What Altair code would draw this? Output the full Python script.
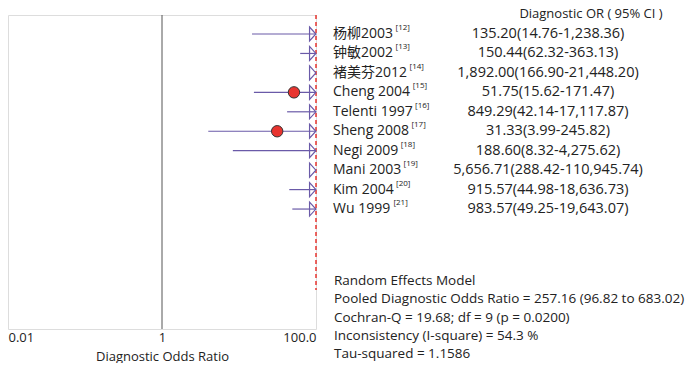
import altair as alt
import pandas as pd

studies = ["杨柳2003", "钟敏2002", "褚美芬2012", "Cheng 2004", "Telenti 1997",
           "Sheng 2008", "Negi 2009", "Mani 2003", "Kim 2004", "Wu 1999"]
refs = ["[12]", "[13]", "[14]", "[15]", "[16]", "[17]", "[18]", "[19]", "[20]", "[21]"]
or_vals = [135.20, 150.44, 1892.00, 51.75, 849.29, 31.33, 188.60, 5656.71, 915.57, 983.57]
ci_low = [14.76, 62.32, 166.90, 15.62, 42.14, 3.99, 8.32, 288.42, 44.98, 49.25]
ci_high = [1238.36, 363.13, 21448.20, 171.47, 17117.87, 245.82, 4275.62, 110945.74, 18636.73, 19643.07]
pooled = 257.16
stats_lines = [
    "Random Effects Model",
    "Pooled Diagnostic Odds Ratio = 257.16 (96.82 to 683.02)",
    "Cochran-Q = 19.68; df =  9 (p = 0.0200)",
    "Inconsistency (I-square) = 54.3 %",
    "Tau-squared = 1.1586",
]
axis_values = [0.01, 1, 100]
header = "Diagnostic OR ( 95% CI )"

FONT = "'Open Sans', 'Noto Sans CJK SC', sans-serif"
LABEL_FS = 14
CI_FS = 14.5
PURPLE = "#6a5aa8"
RED = "#e8342f"
TEXT = "#222222"
W, H = 308, 314

# approximate Open Sans advance widths (em) to place the superscripts
adv = {" ": 0.26, ".": 0.266, ",": 0.245}
adv.update({d: 0.572 for d in "0123456789"})
adv.update({"C": 0.631, "h": 0.614, "e": 0.561, "n": 0.614, "g": 0.549, "T": 0.544,
            "l": 0.266, "t": 0.339, "i": 0.253, "S": 0.536, "N": 0.742, "M": 0.89,
            "a": 0.556, "K": 0.598, "m": 0.93, "W": 0.975, "u": 0.614})


def text_width(s, fs):
    return sum(adv.get(c, 1.0) for c in s) * fs


df = pd.DataFrame({
    "row": list(range(len(studies))),
    "study": studies,
    "ref": refs,
    "or": or_vals,
    "lo": ci_low,
    "hi": ci_high,
})
df["ci_text"] = [f"{o:,.2f}({l:,.2f}-{h:,.2f})" for o, l, h in zip(or_vals, ci_low, ci_high)]
df["sup_x"] = [325 + text_width(s, LABEL_FS) + 2.5 for s in studies]
df["top"] = 100.0

xs = alt.Scale(type="log", domain=[0.01, 100], clamp=True, nice=False)
row_step = 19.45
ys = alt.Scale(domain=[-19 / row_step, -19 / row_step + H / row_step], reverse=True, nice=False, zero=False)

base = alt.Chart(df)

xaxis = alt.Axis(
    values=axis_values,
    labelExpr="datum.value >= 100 ? '100.0' : (datum.value >= 1 ? '1' : '0.01')",
    ticks=False, domain=False, grid=False, labelFlush=True,
    labelPadding=2, titlePadding=6, labelFontSize=13, titleFontSize=13,
    labelFont=FONT, titleFont=FONT, labelColor=TEXT, titleColor=TEXT,
    titleFontWeight="normal", title="Diagnostic Odds Ratio",
)

mid = alt.Chart(pd.DataFrame({"v": [1]})).mark_rule(color="#555555", strokeWidth=1).encode(
    x=alt.X("v:Q", scale=xs, axis=xaxis)
)

ci = base.mark_rule(color=PURPLE, strokeWidth=1.2).encode(
    x=alt.X("lo:Q", scale=xs),
    x2="hi:Q",
    y=alt.Y("row:Q", scale=ys, axis=None),
)

arrows = base.mark_point(
    shape="M-0.45,-1L0.45,0L-0.45,1Z", filled=False, stroke=PURPLE, strokeWidth=1.2,
    size=196, xOffset=-3.3, opacity=1,
).encode(
    x=alt.X("top:Q", scale=xs),
    y=alt.Y("row:Q", scale=ys, axis=None),
)

dots = base.transform_filter("datum.or <= 100").mark_point(
    shape="circle", filled=True, fill=RED, stroke="#333333", strokeWidth=1, size=130, opacity=1,
).encode(
    x=alt.X("or:Q", scale=xs),
    y=alt.Y("row:Q", scale=ys, axis=None),
)

pool_line = alt.Chart(pd.DataFrame({"p": [pooled]})).mark_rule(
    color=RED, strokeWidth=1.5, strokeDash=[4, 3]
).encode(
    x=alt.X("p:Q", scale=xs),
    y=alt.value(0),
    y2=alt.value(275),
)

labels = base.mark_text(align="left", baseline="middle", font=FONT, fontSize=LABEL_FS, color=TEXT).encode(
    x=alt.value(325),
    y=alt.Y("row:Q", scale=ys, axis=None),
    text="study:N",
)

sups = base.mark_text(align="left", baseline="middle", font=FONT, fontSize=8, color=TEXT, dy=-6).encode(
    x=alt.X("sup_x:Q", scale=None, axis=None),
    y=alt.Y("row:Q", scale=ys, axis=None),
    text="ref:N",
)

ci_col = base.mark_text(align="center", baseline="middle", font=FONT, fontSize=CI_FS, color=TEXT).encode(
    x=alt.value(540),
    y=alt.Y("row:Q", scale=ys, axis=None),
    text="ci_text:N",
)

head = alt.Chart(pd.DataFrame({"t": [header]})).mark_text(
    align="center", baseline="top", font=FONT, fontSize=13, color=TEXT
).encode(
    x=alt.value(583),
    y=alt.value(-7),
    text="t:N",
)

stats = alt.Chart(pd.DataFrame({"t": [stats_lines]})).mark_text(
    align="left", baseline="middle", font=FONT, fontSize=13.5, color=TEXT, lineHeight=18.25
).encode(
    x=alt.value(326),
    y=alt.value(266),
    text=alt.Text("t"),
)

chart = alt.layer(
    mid, ci, pool_line, arrows, dots, labels, sups, ci_col, head, stats
).properties(width=W, height=H, padding=0).configure_view(stroke="#555555", strokeWidth=1).configure(
    background="white"
)

chart.save("out.html", embed_options={"renderer": "svg", "actions": False})
